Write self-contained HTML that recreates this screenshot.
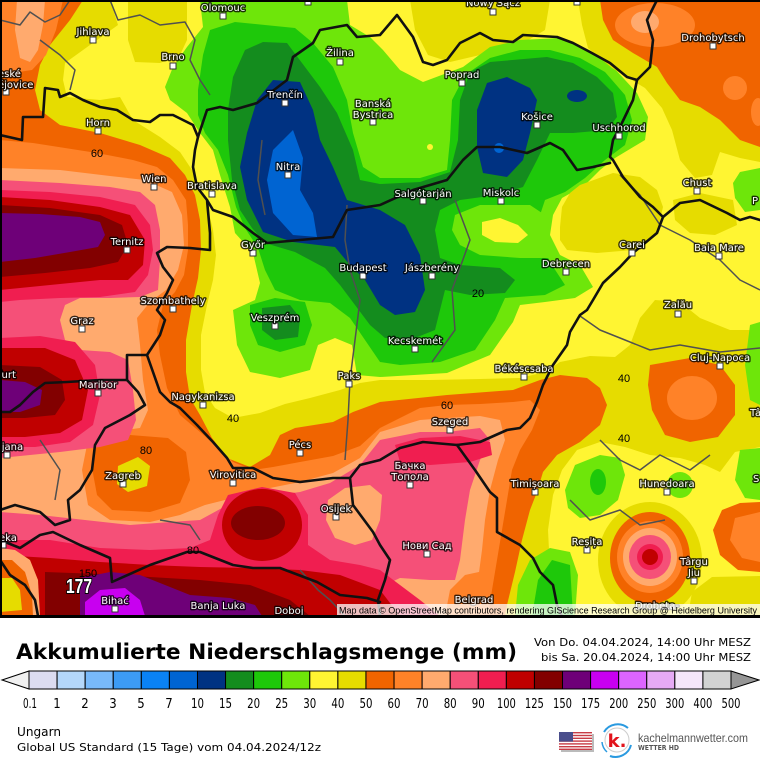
<!DOCTYPE html>
<html><head><meta charset="utf-8"><style>
html,body{margin:0;padding:0;background:#fff;}
svg{display:block;}
.c{font-family:"DejaVu Sans","Liberation Sans",sans-serif;font-size:10px;fill:#fff;stroke:rgba(0,0,0,0.78);stroke-width:2.8px;paint-order:stroke;stroke-linejoin:round;text-anchor:middle;}
.s{text-anchor:start;}
.m{fill:#fff;stroke:#333;stroke-width:1;}
.cl{font-family:"Liberation Sans Narrow","Liberation Sans",sans-serif;font-size:11px;fill:#000;text-anchor:middle;}
.bd{fill:none;stroke:#111;stroke-width:2.6;stroke-linejoin:round;stroke-linecap:round;}
.gb{fill:none;stroke:#505050;stroke-width:1.5;stroke-linejoin:round;}
.lg{font-family:"DejaVu Sans Condensed","Liberation Sans Narrow","DejaVu Sans",sans-serif;font-stretch:condensed;font-size:13px;fill:#000;text-anchor:middle;}
</style></head><body>
<svg width="760" height="760" viewBox="0 0 760 760" xmlns="http://www.w3.org/2000/svg">
<rect x="0" y="0" width="760" height="760" fill="#fff"/>
<g>
<rect x="0" y="0" width="760" height="616" fill="#fff532"/>
<polygon fill="#e6dc00" points="410,0 550,0 545,30 520,45 480,55 450,62 428,55 415,30"/>
<polygon fill="#e6dc00" points="0,0 110,0 118,25 90,45 65,63 63,80 67,97 100,100 120,97 133,120 160,137 180,152 192,170 200,188 207,205 213,230 216,255 213,280 207,305 201,335 201,370 205,393 215,408 233,418 260,413 285,404 310,398 340,390 360,383 380,380 430,380 480,379 520,378 545,372 560,362 590,356 615,357 630,345 640,318 655,300 680,302 700,318 730,330 760,330 760,616 0,616"/>
<polygon fill="#e6dc00" points="128,0 187,0 187,40 180,55 160,63 135,62 128,40"/>
<polygon fill="#f06400" points="0,0 83,0 70,20 50,45 40,65 35,90 40,110 60,125 100,133 140,145 170,158 185,175 195,195 200,220 201,250 198,278 192,305 186,340 186,372 190,398 200,415 212,438 227,458 250,467 270,455 280,435 295,428 333,422 353,412 380,402 447,395 513,390 540,380 560,375 587,378 600,388 607,405 600,425 580,442 557,455 543,472 537,492 530,510 522,540 515,572 507,605 505,616 0,616"/>
<polygon fill="#ff8228" points="0,0 63,0 56,30 46,55 32,70 12,73 0,70"/>
<polygon fill="#ffaa6e" points="17,0 45,0 43,25 38,50 30,62 20,58 15,30"/>
<polygon fill="#ff8228" points="0,140 33,143 97,153 133,160 157,167 173,180 186,200 188,225 188,250 184,275 175,292 163,305 157,330 160,355 167,388 180,415 200,432 218,448 233,462 253,470 273,467 300,462 333,456 360,446 380,428 420,408 447,405 480,404 513,402 530,400 540,410 532,430 520,450 512,470 507,500 502,530 497,560 492,590 488,616 0,616"/>
<polygon fill="#ffaa6e" points="0,168 60,170 110,176 145,180 172,192 182,215 184,245 178,270 166,290 150,302 137,318 140,345 143,380 148,410 140,428 110,432 88,440 82,470 88,505 110,520 150,522 180,515 205,505 233,498 260,490 300,482 333,473 360,458 380,432 420,420 447,418 480,416 500,420 505,440 498,460 490,490 485,520 482,550 478,580 475,616 0,616"/>
<polygon fill="#ff8228" points="88,438 130,430 175,432 200,445 208,470 200,500 180,512 140,518 105,514 90,495 85,465"/>
<polygon fill="#f06400" points="95,442 130,435 168,438 186,452 190,480 180,503 150,512 112,510 97,495 92,468"/>
<polygon fill="#e6dc00" points="118,466 138,457 150,466 147,486 128,492 117,484"/>
<polygon fill="#f55078" points="0,180 60,183 110,187 140,192 155,205 160,230 160,260 158,290 140,297 110,298 80,298 65,305 60,320 65,340 80,350 110,352 128,360 133,390 136,420 128,440 100,447 60,452 30,455 0,458"/>
<polygon fill="#f55078" points="0,512 40,515 85,520 130,525 170,522 200,520 222,508 240,500 270,496 300,492 330,483 360,465 380,440 420,432 447,432 480,428 490,440 480,460 470,490 465,520 460,560 455,580 430,580 400,578 385,585 380,616 0,616"/>
<polygon fill="#ffaa6e" points="328,500 345,488 370,485 382,495 380,520 372,540 355,545 335,538 326,520"/>
<polygon fill="#ff8228" points="445,616 450,590 465,575 488,570 490,616"/>
<polygon fill="#f01e50" points="0,190 50,192 100,197 135,205 150,225 153,250 148,275 135,292 100,297 60,298 20,300 0,302"/>
<polygon fill="#f01e50" points="0,338 40,336 75,342 95,365 100,395 93,425 70,442 35,447 0,447"/>
<polygon fill="#f01e50" points="0,540 50,540 100,548 150,550 190,548 210,540 218,515 228,495 262,487 295,493 308,515 308,545 330,560 360,565 380,570 400,585 420,600 440,616 0,616"/>
<polygon fill="#f01e50" points="395,445 420,438 460,436 490,442 492,455 470,462 430,465 400,462"/>
<polygon fill="#c00000" points="0,197 50,200 100,207 130,215 145,240 143,265 128,280 100,280 50,285 0,290"/>
<polygon fill="#c00000" points="0,348 45,348 75,360 88,390 82,420 60,433 25,437 0,437"/>
<polygon fill="#c00000" points="0,555 50,558 100,562 150,565 200,567 250,568 300,570 340,575 380,590 400,616 0,616"/>
<ellipse fill="#c00000" cx="262" cy="525" rx="40" ry="36"/>
<polygon fill="#820000" points="0,205 50,208 100,215 122,225 128,245 118,262 90,268 45,273 0,277"/>
<polygon fill="#820000" points="0,365 40,367 62,380 65,400 55,415 25,418 0,418"/>
<polygon fill="#820000" points="45,572 100,574 150,577 200,580 250,585 290,600 310,616 45,616"/>
<ellipse fill="#820000" cx="258" cy="523" rx="27" ry="17"/>
<polygon fill="#6e0078" points="0,213 40,214 80,217 100,222 105,235 98,247 70,252 35,258 0,262"/>
<polygon fill="#6e0078" points="0,380 25,382 42,390 40,405 20,412 0,412"/>
<polygon fill="#6e0078" points="80,578 110,572 140,575 165,585 190,595 230,598 255,605 262,616 80,616"/>
<polygon fill="#c800f0" points="85,602 100,590 125,588 140,600 145,616 85,616"/>
<polygon fill="#ffaa6e" points="0,548 15,550 30,560 38,580 40,616 0,616"/>
<polygon fill="#f06400" points="0,560 12,560 25,572 32,595 33,616 0,616"/>
<polygon fill="#e6dc00" points="0,578 12,578 20,590 22,610 0,612"/>
<polygon fill="#6ee60a" points="200,0 347,0 350,25 370,37 383,50 400,70 423,82 463,67 490,47 520,40 560,38 587,50 613,67 637,93 648,117 645,140 615,158 600,170 585,185 562,198 553,215 550,235 560,255 580,265 593,287 575,298 545,302 520,305 513,322 490,355 447,373 380,377 357,375 352,345 335,338 318,345 310,370 280,378 250,372 237,345 233,310 255,300 260,283 253,253 235,233 230,207 220,175 213,150 200,133 187,113 170,100 165,87 173,67 187,47 203,27"/>
<polygon fill="#1ec80a" points="210,30 235,22 265,25 295,28 313,43 333,67 347,100 353,133 363,167 380,178 420,178 447,170 450,140 452,100 465,75 490,58 520,50 550,50 580,58 605,72 625,95 632,120 625,145 605,160 585,178 565,192 545,200 540,215 540,240 550,262 565,285 545,295 505,298 495,320 475,350 440,362 400,365 380,362 365,340 350,318 330,303 300,300 275,290 265,270 258,248 245,228 236,207 228,175 218,150 205,133 198,115 198,90 203,55"/>
<polygon fill="#6ee60a" points="455,215 480,205 530,205 545,215 545,240 555,258 520,258 480,255 460,245 452,230"/>
<polygon fill="#fff532" points="482,222 500,218 518,225 528,235 518,243 495,242 482,235"/>
<circle fill="#fff532" cx="430" cy="147" r="3"/>
<polygon fill="#1ec80a" points="250,305 275,298 305,302 312,325 305,345 280,352 258,345 250,325"/>
<polygon fill="#148c1e" points="262,308 290,305 300,318 298,337 275,340 262,330"/>
<polygon fill="#148c1e" points="233,77 245,50 263,42 287,43 320,87 337,113 353,150 360,180 380,184 420,182 450,172 458,140 460,100 470,72 490,62 547,57 573,63 597,77 613,93 617,117 607,130 573,133 550,133 537,160 523,187 497,195 460,200 440,210 435,230 440,258 460,265 500,268 515,280 505,293 470,295 445,290 440,310 435,330 415,338 385,338 370,325 355,305 340,285 325,268 295,252 265,243 252,228 240,210 232,180 228,140 228,110"/>
<polygon fill="#003282" points="273,80 300,82 313,110 320,140 333,167 347,200 380,210 405,225 420,255 425,290 415,312 395,315 380,305 365,280 350,265 335,247 293,242 263,232 247,200 240,167 247,133 257,100"/>
<polygon fill="#003282" points="487,83 507,77 530,88 537,100 530,133 523,160 507,177 483,173 477,147 477,110"/>
<ellipse fill="#003282" cx="577" cy="96" rx="10" ry="6"/>
<polygon fill="#0064d2" points="293,130 303,158 300,190 313,213 317,237 293,235 273,213 267,180 273,150"/>
<circle fill="#0064d2" cx="499" cy="148" r="5"/>
<polygon fill="#e6dc00" points="578,0 760,0 760,162 740,158 720,152 712,175 695,178 680,160 672,130 662,108 645,88 612,68 588,48 582,25"/>
<polygon fill="#f06400" points="600,0 760,0 760,147 740,140 720,120 700,107 680,100 667,83 657,67 633,53 613,40 603,20"/>
<ellipse fill="#ff8228" cx="655" cy="25" rx="40" ry="22"/>
<ellipse fill="#ffaa6e" cx="645" cy="22" rx="14" ry="11"/>
<ellipse fill="#ff8228" cx="735" cy="88" rx="12" ry="12"/>
<ellipse fill="#ff8228" cx="758" cy="112" rx="7" ry="14"/>
<polygon fill="#e6dc00" points="570,193 580,185 613,173 640,177 657,190 663,207 657,233 633,250 597,253 567,250 560,240 560,227 562,207"/>
<polygon fill="#e6dc00" points="673,200 700,193 733,200 737,225 715,235 690,233 675,220"/>
<polygon fill="#6ee60a" points="740,172 760,168 760,210 745,212 735,198 733,183"/>
<polygon fill="#f06400" points="650,365 690,358 720,365 735,385 735,415 718,437 690,442 665,435 652,410 648,385"/>
<ellipse fill="#ff8228" cx="692" cy="398" rx="25" ry="22"/>
<polygon fill="#6ee60a" points="750,325 760,322 760,405 750,400 745,365"/>
<polygon fill="#fff532" points="555,616 550,570 548,530 553,495 562,470 577,450 600,442 625,447 650,455 680,458 705,465 720,472 735,452 760,447 760,616"/>
<polygon fill="#6ee60a" points="740,450 760,448 760,500 745,498 735,480"/>
<polygon fill="#f06400" points="722,510 740,503 760,502 760,572 738,570 720,555 713,530"/>
<polygon fill="#ff8228" points="735,518 760,512 760,562 742,558 730,540"/>
<polygon fill="#e6dc00" points="688,616 692,592 712,577 760,576 760,616"/>
<polygon fill="#6ee60a" points="565,490 575,465 600,455 620,458 625,475 618,500 600,515 580,518 568,508"/>
<ellipse fill="#1ec80a" cx="598" cy="482" rx="8" ry="13"/>
<polygon fill="#6ee60a" points="515,616 518,585 530,560 550,548 570,552 578,575 575,616"/>
<polygon fill="#1ec80a" points="532,616 538,580 552,560 570,565 573,616"/>
<ellipse fill="#6ee60a" cx="680" cy="485" rx="13" ry="13"/>
<ellipse fill="#e6dc00" cx="650" cy="560" rx="52" ry="58"/>
<ellipse fill="#f06400" cx="650" cy="558" rx="40" ry="46"/>
<ellipse fill="#ff8228" cx="650" cy="557" rx="33" ry="36"/>
<ellipse fill="#ffaa6e" cx="650" cy="557" rx="27" ry="29"/>
<ellipse fill="#f55078" cx="650" cy="557" rx="21" ry="22"/>
<ellipse fill="#f01e50" cx="650" cy="557" rx="13" ry="13"/>
<ellipse fill="#c00000" cx="650" cy="557" rx="8" ry="8"/>

<polyline class="gb" points="347,205 345,240 350,270 360,300 355,340 350,380 348,420 345,460"/>
<polyline class="gb" points="0,20 20,25 30,12 45,22 60,15 70,0"/>
<polyline class="gb" points="40,40 60,55 75,70 70,90"/>
<polyline class="gb" points="110,0 118,20 140,15 160,25 185,22 195,40 190,60 200,80 210,95"/>
<polyline class="gb" points="262,140 258,180 265,215"/>
<polyline class="gb" points="455,200 470,240 452,290 455,330 432,362"/>
<polyline class="gb" points="580,316 600,330 625,340 650,350 680,345 720,352 760,348"/>
<polyline class="gb" points="600,440 620,460 640,470 660,455 690,470 710,455"/>
<polyline class="gb" points="570,500 590,520 620,510 640,525 665,520"/>
<polyline class="gb" points="620,175 640,195 660,225 690,240 720,260 740,280 760,290"/>
<polyline class="gb" points="300,570 318,590 330,600 345,616"/>
<polyline class="gb" points="40,440 60,470 55,500"/>
<polyline class="gb" points="160,520 190,525 200,540"/>
<polyline class="bd" points="0,135 22,140 23,117 43,117 45,88 58,90 60,97 70,93 83,100 100,107 117,110 133,120 150,122 160,115 173,115 193,125 198,137 195,150 193,167 197,187 207,200 213,210 233,217 253,233 267,243 300,240 333,237 347,210 367,207 380,205 413,190 447,180 463,160 477,147 500,147 527,153 550,143 563,150 577,170 593,167 610,163"/>
<polyline class="bd" points="198,137 207,110 220,107 233,110 257,103 287,80 293,57 313,43 320,30 347,25 357,37 380,35 397,15 413,37 423,62 433,65 447,60 460,43 480,33 493,40 513,42 523,35 557,37 573,43 590,52 610,63 627,77 637,80"/>
<polyline class="bd" points="637,80 650,67 653,40 647,20 657,0"/>
<polyline class="bd" points="637,80 633,100 620,127 613,140 610,157 613,160 623,177 640,197 653,207 663,217 657,233 633,253 620,267 603,283 593,300 587,310 580,315 570,332 567,345 553,365 543,385 537,402 530,418 520,428 507,430 480,442 457,445 423,442 400,448 380,460 360,465 350,478 333,478 300,482 273,478 253,468 233,468 227,458 213,442 197,425 180,408 170,402 160,392 153,372 147,355"/>
<polyline class="bd" points="663,217 680,203 700,200 727,213 740,220 750,217 760,220"/>
<polyline class="bd" points="207,200 210,233 210,250 190,248 167,247 157,253 163,267 173,280 167,293 157,310 165,320 160,335 147,355 127,355 127,380 100,380 67,382 45,383 33,392 20,405 10,412 0,412"/>
<polyline class="bd" points="127,380 138,392 145,405 130,415 105,428 95,445 92,470 80,490 68,500 70,520 55,525 40,512 15,505 0,510"/>
<polyline class="bd" points="0,540 20,548 40,535 53,532 80,545 110,558 112,582 150,565 187,552 200,552 233,565 253,568 280,568 317,582 340,595 367,598 380,602"/>
<polyline class="bd" points="350,478 353,505 373,532 380,545 390,560 385,580 378,600 380,616"/>
<polyline class="bd" points="457,445 475,470 490,492 497,498 497,532 520,545 533,558 540,572 553,585 557,605 562,616"/>
<polyline class="bd" points="0,560 10,575 25,585 35,600 38,616"/>
<text class="cl" x="97" y="157">60</text>
<text class="cl" x="233" y="422">40</text>
<text class="cl" x="447" y="409">60</text>
<text class="cl" x="478" y="297">20</text>
<text class="cl" x="624" y="382">40</text>
<text class="cl" x="624" y="442">40</text>
<text class="cl" x="146" y="454">80</text>
<text class="cl" x="193" y="554">80</text>
<text class="cl" x="88" y="577">150</text>
<text x="66" y="593" font-family="Liberation Sans Narrow,Liberation Sans,sans-serif" font-size="20" font-weight="bold" fill="#fff" stroke="#000" stroke-width="2" paint-order="stroke" textLength="26" lengthAdjust="spacingAndGlyphs">177</text>
<g>
<rect class="m" x="220" y="13" width="6" height="6"/>
<rect class="m" x="490" y="9" width="6" height="6"/>
<rect class="m" x="305" y="0" width="6" height="5"/>
<rect class="m" x="574" y="0" width="6" height="5"/>
<rect class="m" x="90" y="37" width="6" height="6"/>
<rect class="m" x="170" y="63" width="6" height="6"/>
<rect class="m" x="337" y="59" width="6" height="6"/>
<rect class="m" x="459" y="80" width="6" height="6"/>
<rect class="m" x="710" y="43" width="6" height="6"/>
<rect class="m" x="3" y="89" width="6" height="6"/>
<rect class="m" x="282" y="100" width="6" height="6"/>
<rect class="m" x="370" y="119" width="6" height="6"/>
<rect class="m" x="534" y="122" width="6" height="6"/>
<rect class="m" x="616" y="133" width="6" height="6"/>
<rect class="m" x="95" y="128" width="6" height="6"/>
<rect class="m" x="285" y="172" width="6" height="6"/>
<rect class="m" x="694" y="188" width="6" height="6"/>
<rect class="m" x="151" y="184" width="6" height="6"/>
<rect class="m" x="209" y="191" width="6" height="6"/>
<rect class="m" x="420" y="198" width="6" height="6"/>
<rect class="m" x="498" y="198" width="6" height="6"/>
<rect class="m" x="124" y="247" width="6" height="6"/>
<rect class="m" x="250" y="250" width="6" height="6"/>
<rect class="m" x="629" y="250" width="6" height="6"/>
<rect class="m" x="716" y="253" width="6" height="6"/>
<rect class="m" x="360" y="273" width="6" height="6"/>
<rect class="m" x="429" y="273" width="6" height="6"/>
<rect class="m" x="563" y="269" width="6" height="6"/>
<rect class="m" x="170" y="306" width="6" height="6"/>
<rect class="m" x="675" y="311" width="6" height="6"/>
<rect class="m" x="79" y="326" width="6" height="6"/>
<rect class="m" x="272" y="323" width="6" height="6"/>
<rect class="m" x="412" y="346" width="6" height="6"/>
<rect class="m" x="717" y="363" width="6" height="6"/>
<rect class="m" x="346" y="381" width="6" height="6"/>
<rect class="m" x="521" y="374" width="6" height="6"/>
<rect class="m" x="95" y="390" width="6" height="6"/>
<rect class="m" x="200" y="402" width="6" height="6"/>
<rect class="m" x="297" y="450" width="6" height="6"/>
<rect class="m" x="447" y="427" width="6" height="6"/>
<rect class="m" x="4" y="452" width="6" height="6"/>
<rect class="m" x="407" y="482" width="6" height="6"/>
<rect class="m" x="230" y="480" width="6" height="6"/>
<rect class="m" x="120" y="481" width="6" height="6"/>
<rect class="m" x="532" y="489" width="6" height="6"/>
<rect class="m" x="664" y="489" width="6" height="6"/>
<rect class="m" x="333" y="514" width="6" height="6"/>
<rect class="m" x="0" y="542" width="6" height="6"/>
<rect class="m" x="584" y="547" width="6" height="6"/>
<rect class="m" x="424" y="551" width="6" height="6"/>
<rect class="m" x="691" y="578" width="6" height="6"/>
<rect class="m" x="112" y="606" width="6" height="6"/>
</g>
<g>
<text class="c" x="223" y="11">Olomouc</text>
<text class="c" x="493" y="6">Nowy Sącz</text>
<text class="c" x="93" y="35">Jihlava</text>
<text class="c" x="173" y="60">Brno</text>
<text class="c" x="340" y="56">Žilina</text>
<text class="c" x="462" y="78">Poprad</text>
<text class="c" x="713" y="41">Drohobytsch</text>
<text class="c s" x="-2" y="77">eské</text>
<text class="c s" x="-2" y="88">ějovice</text>
<text class="c" x="285" y="98">Trenčín</text>
<text class="c" x="373" y="107">Banská</text>
<text class="c" x="373" y="118">Bystrica</text>
<text class="c" x="537" y="120">Košice</text>
<text class="c" x="619" y="131">Uschhorod</text>
<text class="c" x="98" y="126">Horn</text>
<text class="c" x="288" y="170">Nitra</text>
<text class="c" x="697" y="186">Chust</text>
<text class="c" x="154" y="182">Wien</text>
<text class="c" x="212" y="189">Bratislava</text>
<text class="c" x="423" y="197">Salgótarján</text>
<text class="c" x="501" y="196">Miskolc</text>
<text class="c" x="127" y="245">Ternitz</text>
<text class="c" x="253" y="248">Győr</text>
<text class="c" x="632" y="248">Carei</text>
<text class="c" x="719" y="251">Baia Mare</text>
<text class="c" x="363" y="271">Budapest</text>
<text class="c" x="432" y="271">Jászberény</text>
<text class="c" x="566" y="267">Debrecen</text>
<text class="c" x="173" y="304">Szombathely</text>
<text class="c" x="678" y="308">Zalău</text>
<text class="c" x="82" y="324">Graz</text>
<text class="c" x="275" y="321">Veszprém</text>
<text class="c" x="415" y="344">Kecskemét</text>
<text class="c" x="720" y="361">Cluj-Napoca</text>
<text class="c" x="349" y="379">Paks</text>
<text class="c" x="524" y="372">Békéscsaba</text>
<text class="c s" x="-2" y="378">furt</text>
<text class="c" x="98" y="388">Maribor</text>
<text class="c" x="203" y="400">Nagykanizsa</text>
<text class="c" x="300" y="448">Pécs</text>
<text class="c" x="450" y="425">Szeged</text>
<text class="c s" x="-1" y="450">ljana</text>
<text class="c" x="410" y="469">Бачка</text>
<text class="c" x="410" y="480">Топола</text>
<text class="c" x="233" y="478">Virovitica</text>
<text class="c" x="123" y="479">Zagreb</text>
<text class="c" x="535" y="487">Timișoara</text>
<text class="c" x="667" y="487">Hunedoara</text>
<text class="c" x="336" y="512">Osijek</text>
<text class="c s" x="-1" y="541">eka</text>
<text class="c" x="587" y="545">Reșița</text>
<text class="c" x="427" y="549">Нови Сад</text>
<text class="c" x="694" y="565">Târgu</text>
<text class="c" x="694" y="576">Jiu</text>
<text class="c" x="115" y="604">Bihać</text>
<text class="c" x="218" y="609">Banja Luka</text>
<text class="c" x="289" y="614">Doboj</text>
<text class="c" x="474" y="603">Belgrad</text>
<text class="c" x="657" y="609">Drobeta-</text>
<text class="c s" x="750" y="416">Tâ</text>
<text class="c s" x="753" y="482">S</text>
<text class="c s" x="752" y="204">P</text>
</g>
<rect x="337" y="604" width="423" height="12" fill="rgba(255,255,255,0.75)"/>
<text x="339" y="613.5" font-family="Liberation Sans,sans-serif" font-size="9" fill="#000" textLength="418" lengthAdjust="spacingAndGlyphs">Map data © OpenStreetMap contributors, rendering GIScience Research Group @ Heidelberg University</text>
<rect x="0" y="0" width="760" height="2" fill="#000"/>
<rect x="0" y="0" width="2" height="616" fill="#000"/>
<rect x="0" y="615" width="760" height="3" fill="#000"/>
</g>

<text x="16" y="659" font-family="DejaVu Sans,Liberation Sans,sans-serif" font-size="21" font-weight="bold" fill="#000" textLength="501" lengthAdjust="spacingAndGlyphs">Akkumulierte Niederschlagsmenge (mm)</text>
<text x="751" y="646" font-family="DejaVu Sans,Liberation Sans,sans-serif" font-size="11" fill="#000" text-anchor="end" textLength="217" lengthAdjust="spacingAndGlyphs">Von Do. 04.04.2024, 14:00 Uhr MESZ</text>
<text x="751" y="661" font-family="DejaVu Sans,Liberation Sans,sans-serif" font-size="11" fill="#000" text-anchor="end" textLength="210" lengthAdjust="spacingAndGlyphs">bis Sa. 20.04.2024, 14:00 Uhr MESZ</text>
<polygon points="2,680 29,671 29,689" fill="#f0f0f0" stroke="#000" stroke-width="1"/>
<polygon points="731,671 759,680 731,689" fill="#969696" stroke="#000" stroke-width="1"/>
<g stroke="#000" stroke-width="1">
<rect x="29" y="671" width="28.08" height="18" fill="#dcdcf0"/>
<rect x="57.08" y="671" width="28.08" height="18" fill="#b4d7fa"/>
<rect x="85.16" y="671" width="28.08" height="18" fill="#78b9fa"/>
<rect x="113.24" y="671" width="28.08" height="18" fill="#3c9bf5"/>
<rect x="141.32" y="671" width="28.08" height="18" fill="#0a82f5"/>
<rect x="169.4" y="671" width="28.08" height="18" fill="#0064d2"/>
<rect x="197.48" y="671" width="28.08" height="18" fill="#003282"/>
<rect x="225.56" y="671" width="28.08" height="18" fill="#148c1e"/>
<rect x="253.64" y="671" width="28.08" height="18" fill="#1ec80a"/>
<rect x="281.72" y="671" width="28.08" height="18" fill="#6ee60a"/>
<rect x="309.8" y="671" width="28.08" height="18" fill="#fff532"/>
<rect x="337.88" y="671" width="28.08" height="18" fill="#e6dc00"/>
<rect x="365.96" y="671" width="28.08" height="18" fill="#f06400"/>
<rect x="394.04" y="671" width="28.08" height="18" fill="#ff8228"/>
<rect x="422.12" y="671" width="28.08" height="18" fill="#ffaa6e"/>
<rect x="450.2" y="671" width="28.08" height="18" fill="#f55078"/>
<rect x="478.28" y="671" width="28.08" height="18" fill="#f01e50"/>
<rect x="506.36" y="671" width="28.08" height="18" fill="#c00000"/>
<rect x="534.44" y="671" width="28.08" height="18" fill="#820000"/>
<rect x="562.52" y="671" width="28.08" height="18" fill="#6e0078"/>
<rect x="590.6" y="671" width="28.08" height="18" fill="#c800f0"/>
<rect x="618.68" y="671" width="28.08" height="18" fill="#dc64ff"/>
<rect x="646.76" y="671" width="28.08" height="18" fill="#e6aaf5"/>
<rect x="674.84" y="671" width="28.08" height="18" fill="#f5e6fa"/>
<rect x="702.92" y="671" width="28.08" height="18" fill="#d2d2d2"/>
</g>
<g>
<text class="lg" x="30" y="708" textLength="14" lengthAdjust="spacingAndGlyphs">0.1</text>
<text class="lg" x="57" y="708">1</text>
<text class="lg" x="85" y="708">2</text>
<text class="lg" x="113" y="708">3</text>
<text class="lg" x="141" y="708">5</text>
<text class="lg" x="169" y="708">7</text>
<text class="lg" x="197.5" y="708" textLength="13" lengthAdjust="spacingAndGlyphs">10</text>
<text class="lg" x="225.5" y="708" textLength="13" lengthAdjust="spacingAndGlyphs">15</text>
<text class="lg" x="253.6" y="708" textLength="13" lengthAdjust="spacingAndGlyphs">20</text>
<text class="lg" x="281.7" y="708" textLength="13" lengthAdjust="spacingAndGlyphs">25</text>
<text class="lg" x="309.8" y="708" textLength="13" lengthAdjust="spacingAndGlyphs">30</text>
<text class="lg" x="337.9" y="708" textLength="13" lengthAdjust="spacingAndGlyphs">40</text>
<text class="lg" x="366" y="708" textLength="13" lengthAdjust="spacingAndGlyphs">50</text>
<text class="lg" x="394" y="708" textLength="13" lengthAdjust="spacingAndGlyphs">60</text>
<text class="lg" x="422.1" y="708" textLength="13" lengthAdjust="spacingAndGlyphs">70</text>
<text class="lg" x="450.2" y="708" textLength="13" lengthAdjust="spacingAndGlyphs">80</text>
<text class="lg" x="478.3" y="708" textLength="13" lengthAdjust="spacingAndGlyphs">90</text>
<text class="lg" x="506.4" y="708" textLength="19" lengthAdjust="spacingAndGlyphs">100</text>
<text class="lg" x="534.4" y="708" textLength="19" lengthAdjust="spacingAndGlyphs">125</text>
<text class="lg" x="562.5" y="708" textLength="19" lengthAdjust="spacingAndGlyphs">150</text>
<text class="lg" x="590.6" y="708" textLength="19" lengthAdjust="spacingAndGlyphs">175</text>
<text class="lg" x="618.7" y="708" textLength="19" lengthAdjust="spacingAndGlyphs">200</text>
<text class="lg" x="646.8" y="708" textLength="19" lengthAdjust="spacingAndGlyphs">250</text>
<text class="lg" x="674.8" y="708" textLength="19" lengthAdjust="spacingAndGlyphs">300</text>
<text class="lg" x="702.9" y="708" textLength="19" lengthAdjust="spacingAndGlyphs">400</text>
<text class="lg" x="731" y="708" textLength="19" lengthAdjust="spacingAndGlyphs">500</text>
</g>
<text x="17" y="736" font-family="DejaVu Sans,Liberation Sans,sans-serif" font-size="12" fill="#000" textLength="44" lengthAdjust="spacingAndGlyphs">Ungarn</text>
<text x="17" y="751" font-family="DejaVu Sans,Liberation Sans,sans-serif" font-size="11" fill="#000" textLength="304" lengthAdjust="spacingAndGlyphs">Global US Standard (15 Tage) vom  04.04.2024/12z</text>
<g>
<rect x="561" y="734" width="33" height="18" fill="#bbb"/>
<rect x="559" y="732" width="33" height="18" fill="#fff"/>
<rect x="559" y="732" width="33" height="1.4" fill="#c83c46"/>
<rect x="559" y="734.8" width="33" height="1.4" fill="#c83c46"/>
<rect x="559" y="737.6" width="33" height="1.4" fill="#c83c46"/>
<rect x="559" y="740.4" width="33" height="1.4" fill="#c83c46"/>
<rect x="559" y="743.2" width="33" height="1.4" fill="#c83c46"/>
<rect x="559" y="746" width="33" height="1.4" fill="#c83c46"/>
<rect x="559" y="748.6" width="33" height="1.4" fill="#c83c46"/>
<rect x="559" y="732" width="14" height="9.6" fill="#4a4e8c"/>
</g>
<g>
<path d="M604,732 A16,16 0 0,1 628,728" fill="none" stroke="#2a9ae0" stroke-width="2"/>
<path d="M631,745 A16,16 0 0,1 610,756" fill="none" stroke="#2a9ae0" stroke-width="2"/>
<path d="M602,742 A15,15 0 0,0 607,752" fill="none" stroke="#2a9ae0" stroke-width="1.5"/>
<circle cx="617" cy="740" r="12" fill="#fff" stroke="#ccc" stroke-width="1"/>
<text x="617" y="747" font-family="DejaVu Sans,Liberation Sans,sans-serif" font-size="18" font-weight="bold" fill="#e2141c" text-anchor="middle">k.</text>
<text x="638" y="742" font-family="Liberation Sans,sans-serif" font-size="12" fill="#555" textLength="110" lengthAdjust="spacingAndGlyphs">kachelmannwetter.com</text>
<text x="638" y="750" font-family="DejaVu Sans,Liberation Sans,sans-serif" font-size="7" font-weight="bold" fill="#555" textLength="41" lengthAdjust="spacingAndGlyphs">WETTER HD</text>
</g>
</svg>
</body></html>
